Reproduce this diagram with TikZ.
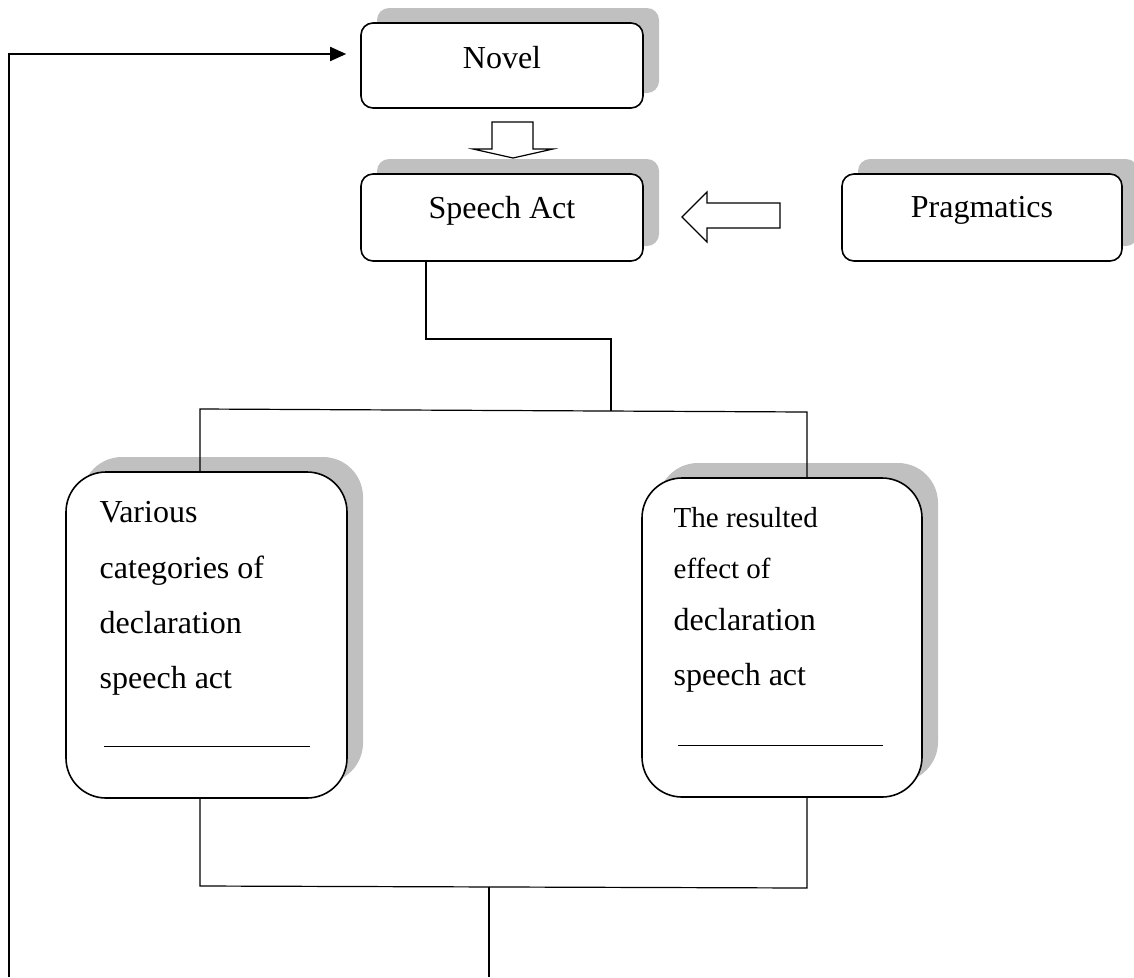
\documentclass[tikz,border=0pt]{standalone}
\usepackage{fontspec}
\setmainfont{Liberation Serif}
\usetikzlibrary{shadows,arrows.meta}
\definecolor{shadowgray}{RGB}{192,192,192}
\begin{document}
\begin{tikzpicture}[x=1pt,y=-1pt,
  sbox/.style={draw=black, line width=1.6pt, fill=white, rounded corners=12pt,
    inner xsep=0pt, inner ysep=0pt, minimum width=282pt, anchor=base,
    font=\fontsize{32pt}{38pt}\selectfont,
    drop shadow={shadow xshift=16pt, shadow yshift=15pt, fill=shadowgray, opacity=1}},
  bbox/.style={draw=black, line width=1.6pt, fill=white, rounded corners=40pt,
    inner sep=0pt,
    drop shadow={shadow xshift=16pt, shadow yshift=15pt, fill=shadowgray, opacity=1}},
  txt/.style={anchor=base west, inner sep=0pt, font=\fontsize{32pt}{38pt}\selectfont},
  txts/.style={anchor=base west, inner sep=0pt, font=\fontsize{29pt}{35pt}\selectfont},
  conn/.style={draw=black, line width=1.2pt},
  blk/.style={draw=black, line width=1.2pt, fill=white, line join=miter}
]
\useasboundingbox (0,0) rectangle (1134,977);

% top boxes
\node[sbox, text height=45pt, text depth=40pt] (novel) at (502,68) {Novel};
\node[sbox, text height=44pt, text depth=43pt] (speech) at (502,218) {Speech Act};
\node[sbox, text height=43pt, text depth=44pt, minimum width=280pt] (prag) at (982,217) {Pragmatics};

% big boxes
\node[bbox, minimum width=281pt, minimum height=326pt] (various) at (206.5,635) {};
\node[bbox, minimum width=280pt, minimum height=319pt] (effect) at (782,637.5) {};

% texts in big boxes
\node[txt] (v1) at (99.5,522) {Various};
\node[txt] (v2) at (99.5,578) {categories of};
\node[txt] (v3) at (99.5,633) {declaration};
\node[txt] (v4) at (99.5,688) {speech act};
\draw[line width=1pt] (104,746) -- (310,746);

\node[txts] (e1) at (673.5,527) {The resulted};
\node[txts] (e2) at (673.5,578) {effect of};
\node[txt] (e3) at (673.5,630) {declaration};
\node[txt] (e4) at (673.5,685) {speech act};
\draw[line width=1pt] (678,745) -- (883,745);

% block arrows
\draw[blk] (492,122) -- (533,122) -- (533,149) -- (553,149) -- (513,158)
  -- (473,149) -- (492,149) -- cycle;
\draw[blk] (780,203) -- (707,203) -- (707,192) -- (682,217) -- (707,242)
  -- (707,228) -- (780,228) -- cycle;

% connectors
\coordinate (c1) at (426,339);
\coordinate (c2) at (611,339);
\coordinate (c3) at (611,411);
\draw[conn] (c1 |- speech.south) -- (c1) -- (c2) -- (c3);

\coordinate (ca) at (200,409);
\coordinate (cb) at (807,412);
\draw[conn] (ca |- various.north) -- (ca) -- (cb) -- (cb |- effect.north);

\coordinate (da) at (200,886);
\coordinate (db) at (807,888);
\draw[conn] (da |- various.south) -- (da) -- (db) -- (db |- effect.south);

\coordinate (dm) at (489,887);
\coordinate (dend) at (489,977);
\draw[conn] (dm) -- (dend);

\coordinate (lb) at (9,977);
\coordinate (la) at (9,54);
\draw[line width=1.8pt, -{Triangle[length=16pt,width=14pt]}, shorten >=14pt]
  (lb) -- (la) -- (la -| novel.west);
\end{tikzpicture}
\end{document}
